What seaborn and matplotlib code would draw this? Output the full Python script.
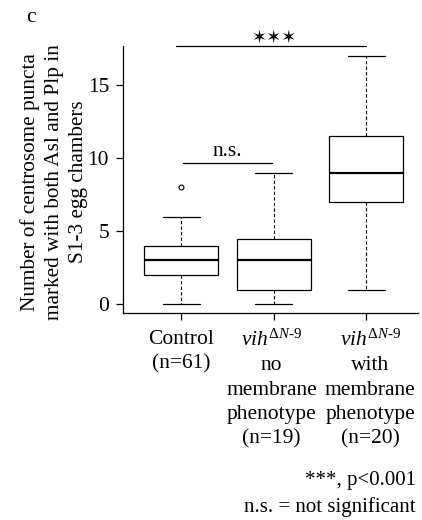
import numpy as np
import pandas as pd
import seaborn as sns
import matplotlib.pyplot as plt
from matplotlib.transforms import ScaledTranslation

# box summaries (R style boxplot)
tick_labels = ["Control\n(n=61)",
               "$vih^{\\Delta N\\text{-}9}$\nno\nmembrane\nphenotype\n(n=19)",
               "$vih^{\\Delta N\\text{-}9}$\nwith\nmembrane\nphenotype\n(n=20)"]
whislo = [0, 0, 1]
q1 = [2, 1, 7]
med = [3, 3, 9]
q3 = [4, 4.5, 11.5]
whishi = [6, 9, 17]
fliers = [[8], [], []]
yticks = [0, 5, 10, 15]

sns.set_theme(style="ticks", rc={"axes.edgecolor": "black", "xtick.color": "black",
                                 "ytick.color": "black", "text.color": "black",
                                 "axes.labelcolor": "black"})
plt.rcParams['font.family'] = ['Liberation Serif', 'DejaVu Serif']
plt.rcParams['mathtext.fontset'] = 'custom'
plt.rcParams['mathtext.rm'] = 'Liberation Serif'
plt.rcParams['mathtext.it'] = 'Liberation Serif:italic'

FS = 15.5

stats = []
for i in range(3):
    stats.append(dict(whislo=whislo[i], q1=q1[i], med=med[i], q3=q3[i],
                      whishi=whishi[i], fliers=fliers[i]))

fig = plt.figure(figsize=(4.22, 5.2), dpi=100)
ax = fig.add_axes([123/422, 207/520, 295/422, 267/520])

ax.bxp(stats, positions=[0, 1, 2], widths=0.8, capwidths=0.4, patch_artist=True,
       boxprops=dict(facecolor='white', edgecolor='black', linewidth=0.9),
       whiskerprops=dict(color='black', linewidth=0.8, linestyle=(0, (3, 2))),
       capprops=dict(color='black', linewidth=0.9),
       medianprops=dict(color='black', linewidth=1.6),
       flierprops=dict(marker='o', markerfacecolor='none', markeredgecolor='black',
                       markersize=3.5, markeredgewidth=0.8))

ax.set_xlim(-0.63, 2.56)
ax.set_ylim(-0.6, 17.68)
ax.set_yticks(yticks)
ax.set_yticklabels([str(t) for t in yticks], fontsize=FS)
ax.set_xticks([0, 1, 2])
ax.set_xticklabels(tick_labels, fontsize=FS, linespacing=1.38)
ax.tick_params(length=5, width=0.9, pad=5)
ax.tick_params(axis='x', pad=7)
# nudge the last two labels apart like the original
for lab, dx in zip(ax.get_xticklabels(), [0, -2, 4]):
    lab.set_transform(lab.get_transform() + ScaledTranslation(dx/100, 0, fig.dpi_scale_trans))
sns.despine(ax=ax)
for s in ['left', 'bottom']:
    ax.spines[s].set_linewidth(0.9)

# significance bars
ax.plot([-0.06, 2], [17.65, 17.65], color='black', lw=0.9, clip_on=False)
ax.text(1, 18.25, "✶✶✶", ha='center', va='center', fontsize=13, family='DejaVu Sans')
ax.plot([0.02, 0.98], [9.65, 9.65], color='black', lw=0.9, clip_on=False)
ax.text(0.5, 9.8, "n.s.", ha='center', va='bottom', fontsize=FS)

fig.text(54/422, 1 - 182/520,
         "Number of centrosome puncta\nmarked with both Asl and Plp in\nS1-3 egg chambers",
         rotation=90, ha='center', va='center', fontsize=15.3, linespacing=1.38)
fig.text(31/422, 1 - 17/520, "c", ha='center', va='center', fontsize=FS)
fig.text(416/422, 1 - 480/520, "***, p<0.001", ha='right', va='center', fontsize=15)
fig.text(416/422, 1 - 507/520, "n.s. = not significant", ha='right', va='center', fontsize=15)

fig.savefig("out.png", dpi=100)
